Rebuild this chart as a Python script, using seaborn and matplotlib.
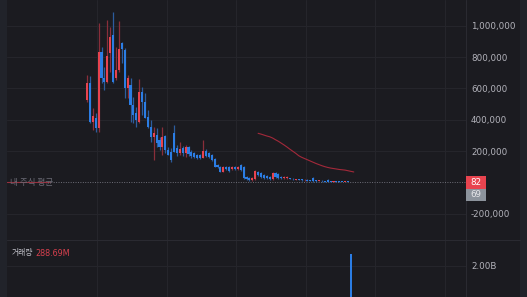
import numpy as np
import pandas as pd
import matplotlib
matplotlib.use("Agg")
import matplotlib.pyplot as plt
import seaborn as sns
from matplotlib.ticker import FixedLocator, FuncFormatter
from matplotlib.patches import Rectangle

# ---------------- data (prices in KRW) ----------------
opens = [526, 635, 385, 411, 347, 833, 666, 641, 826, 941, 666, 718, 890, 845, 603, 622, 494, 443, 385, 577,
         513, 417, 353, 289, 302, 270, 226, 296, 206, 194, 315, 219, 187, 219, 187, 226, 194, 187, 174, 174,
         155, 200, 187, 174, 149, 111, 98, 66, 98, 98, 85, 98, 85, 111, 98, 34, 27, 15, 21, 66,
         59, 47, 40, 34, 21, 59, 53, 34, 27, 27, 27, 24, 15, 21, 18, 12, 15, 14, 30, 12,
         7, 10, 9, 14, 8, 4, 6, 5, 4, 2, 3, 2, 0.069]
highs = [686, 679, 475, 443, 1018, 865, 737, 1036, 992, 1088, 865, 1030, 897, 858, 686, 666, 545, 481, 660, 609,
         570, 462, 398, 353, 347, 289, 353, 302, 226, 219, 366, 238, 258, 232, 238, 232, 206, 194, 181, 181,
         270, 213, 194, 181, 155, 117, 104, 104, 104, 104, 101, 101, 101, 117, 104, 40, 34, 34, 79, 72,
         66, 53, 47, 40, 66, 66, 59, 40, 40, 38, 30, 27, 24, 24, 21, 18, 18, 17, 34, 14,
         13, 12, 11, 21, 10, 8, 7, 6, 5, 4, 4, 3, 0.09]
lows = [512, 379, 334, 321, 321, 635, 590, 635, 705, 635, 654, 705, 762, 539, 539, 385, 379, 353, 379, 430,
        411, 347, 258, 142, 226, 206, 174, 187, 174, 130, 194, 168, 174, 168, 162, 168, 155, 155, 149, 149,
        155, 162, 155, 136, 98, 91, 66, 66, 79, 66, 79, 79, 79, 72, 21, 15, 11, 11, 15, 40,
        27, 21, 21, 15, 15, 27, 21, 21, 21, 21, 18, 15, 13, 12, 10, 10, 8, 7, 5, 5,
        6, 5, 4, 3, 3, 3, 2, 1, 1, 1, 0.5, 0.08, 0.06]
closes = [635, 385, 424, 347, 833, 666, 641, 807, 928, 641, 718, 852, 852, 603, 666, 494, 430, 398, 577, 513,
          411, 353, 289, 315, 251, 226, 289, 206, 174, 142, 194, 187, 213, 187, 226, 181, 168, 162, 155, 155,
          200, 168, 162, 142, 98, 98, 66, 98, 85, 72, 98, 85, 98, 79, 27, 21, 15, 27, 72, 47,
          34, 27, 27, 21, 59, 34, 27, 27, 34, 34, 21, 18, 21, 15, 12, 15, 10, 9, 8, 7,
          10, 6, 5, 5, 4, 6, 3, 2, 2, 3, 1, 0.1, 0.082]
avg_line = [np.nan] * 59 + [313, 308, 302, 296, 291, 283, 272, 262, 250, 238, 225, 211, 198, 185, 170, 160,
                            152, 144, 136, 128, 120, 113, 106, 100, 95, 91, 88, 85, 82, 80, 78, 74, 70, 66]
volumes_m = [120, 150, 90, 80, 260, 180, 110, 240, 200, 260, 120, 210, 90, 160, 80, 110, 70, 60, 140, 80,
             70, 60, 75, 90, 60, 50, 85, 55, 40, 60, 95, 40, 45, 40, 45, 40, 35, 30, 28, 25,
             60, 30, 25, 30, 45, 25, 35, 30, 25, 28, 25, 22, 24, 30, 70, 40, 30, 35, 90, 40,
             35, 30, 28, 25, 60, 35, 30, 25, 28, 30, 35, 40, 45, 50, 55, 60, 70, 80, 150, 90,
             100, 110, 120, 200, 150, 160, 180, 200, 220, 260, 300, 2320, 288.69]
price_ticks = [-200000, 200000, 400000, 600000, 800000, 1000000]
vol_ticks = [2.0e9]
avg_label = "내 주식 평균"
vol_label = "거래량"
vol_value_label = "288.69M"
last_price, other_price = 82, 69

df = pd.DataFrame({
    "idx": np.arange(len(opens)),
    "open": np.array(opens) * 1000,
    "high": np.array(highs) * 1000,
    "low": np.array(lows) * 1000,
    "close": np.array(closes) * 1000,
    "avg": np.array(avg_line, dtype=float) * 1000,
    "volume": np.array(volumes_m) * 1e6,
})
df.loc[df.index[-1], ["open", "high", "low", "close"]] = [69, 90, 60, 82]

# ---------------- style ----------------
BG = "#1b1b20"
EDGE = "#21232a"
GRID = "#25252b"
TXT = "#b3b3bb"
RED = "#e8434f"
BLUE = "#2b7de4"
RED_W = "#8a2e3a"
BLUE_W = "#2c5c9e"

sns.set_theme(style="dark", rc={"axes.facecolor": BG, "figure.facecolor": EDGE})
plt.rcParams["font.family"] = ["Noto Sans CJK KR", "DejaVu Sans"]

W, H = 527, 297
fig = plt.figure(figsize=(W / 100, H / 100), dpi=100)
fig.patches.append(Rectangle((7 / W, 0), (520 - 7) / W, 1, transform=fig.transFigure,
                             facecolor=BG, edgecolor="none", zorder=-5))

def fx(px):
    return px / W

def fy(py):
    return 1 - py / H

x0, x1 = 7, 466
ax = fig.add_axes([fx(x0), fy(240), fx(x1) - fx(x0), 240 / H])
axv = fig.add_axes([fx(x0), 0, fx(x1) - fx(x0), 57 / H])

# x mapping: first candle at px 87, spacing 2.9 px
sp = 2.9
xl = ((x0 - 87) / sp, (x1 - 87) / sp)
for a in (ax, axv):
    a.set_facecolor(BG)
    a.set_xlim(*xl)
    for s in a.spines.values():
        s.set_visible(False)
    a.xaxis.set_major_locator(FixedLocator([3.45 + 24 * k for k in range(6)]))
    a.tick_params(axis="x", length=0, labelbottom=False)
    a.grid(True, color=GRID, linewidth=0.8)
    a.yaxis.tick_right()
    a.tick_params(axis="y", length=0, pad=3.6, labelsize=6.3, labelcolor=TXT)

ax.set_ylim(-368700, 1165000)
ax.yaxis.set_major_locator(FixedLocator(price_ticks))
ax.yaxis.set_major_formatter(FuncFormatter(lambda v, p: f"{int(v):,}"))
for lab in ax.get_yticklabels():
    lab.set_fontfamily(["DejaVu Sans"])

# candles
up = df["close"] >= df["open"]
ax.vlines(df["idx"], df["low"], df["high"], colors=np.where(up, RED_W, BLUE_W), linewidth=0.9, zorder=2)
body = (df["close"] - df["open"]).abs().clip(lower=5000)
bottom = df[["open", "close"]].min(axis=1)
ax.bar(df["idx"], body, bottom=bottom, width=0.72, color=np.where(up, RED, BLUE), linewidth=0, zorder=3)

# average line
sns.lineplot(data=df, x="idx", y="avg", ax=ax, color="#a3293a", linewidth=0.8, zorder=4)
ax.set_xlabel("")
ax.set_ylabel("")

# my average dotted line
ax.axhline(0, color="#6e6e78", linewidth=0.7, linestyle=(0, (1, 1.5)), zorder=1)
ax.plot([xl[0], (50 - 87) / sp], [0, 0], color="#9a2f3e", linewidth=0.8, zorder=1.5)
ax.text((10 - 87) / sp, 0, avg_label, color="#6a6a74", fontsize=6.2, va="center", ha="left", zorder=5)

# price labels boxes
fig.patches.append(Rectangle((fx(466), fy(188.5)), 20 / W, 12.5 / H, transform=fig.transFigure,
                             facecolor="#e8444f", edgecolor="none", zorder=5))
fig.patches.append(Rectangle((fx(466), fy(201)), 20 / W, 12.5 / H, transform=fig.transFigure,
                             facecolor="#8c939c", edgecolor="none", zorder=5))
fig.text(fx(476), fy(182.3), str(last_price), color="white", fontsize=6.3, ha="center", va="center",
         family=["DejaVu Sans"], zorder=6)
fig.text(fx(476), fy(194.8), str(other_price), color="#e8e8ec", fontsize=6.3, ha="center", va="center",
         family=["DejaVu Sans"], zorder=6)

# volume
axv.set_ylim(1.16e9, 2.70e9)
axv.bar(df["idx"], df["volume"], width=0.72, color=np.where(up, RED, BLUE), linewidth=0, zorder=3)
axv.yaxis.set_major_locator(FixedLocator(vol_ticks))
axv.yaxis.set_major_formatter(FuncFormatter(lambda v, p: f"{v / 1e9:.2f}B"))
for lab in axv.get_yticklabels():
    lab.set_fontfamily(["DejaVu Sans"])
fig.text(fx(12), fy(253), vol_label, color="#c4c4cc", fontsize=5.6, ha="left", va="center")
fig.text(fx(35), fy(253), vol_value_label, color="#d8404e", fontsize=5.8, ha="left", va="center",
         family=["DejaVu Sans"])

# separators
fig.add_artist(plt.Line2D([fx(x0), fx(520)], [fy(240), fy(240)], transform=fig.transFigure,
                          color="#2a2a31", linewidth=0.8))
fig.add_artist(plt.Line2D([fx(466), fx(466)], [0, 1], transform=fig.transFigure,
                          color="#2a2a31", linewidth=0.8))

fig.savefig("out.png", dpi=100, facecolor=fig.get_facecolor())
